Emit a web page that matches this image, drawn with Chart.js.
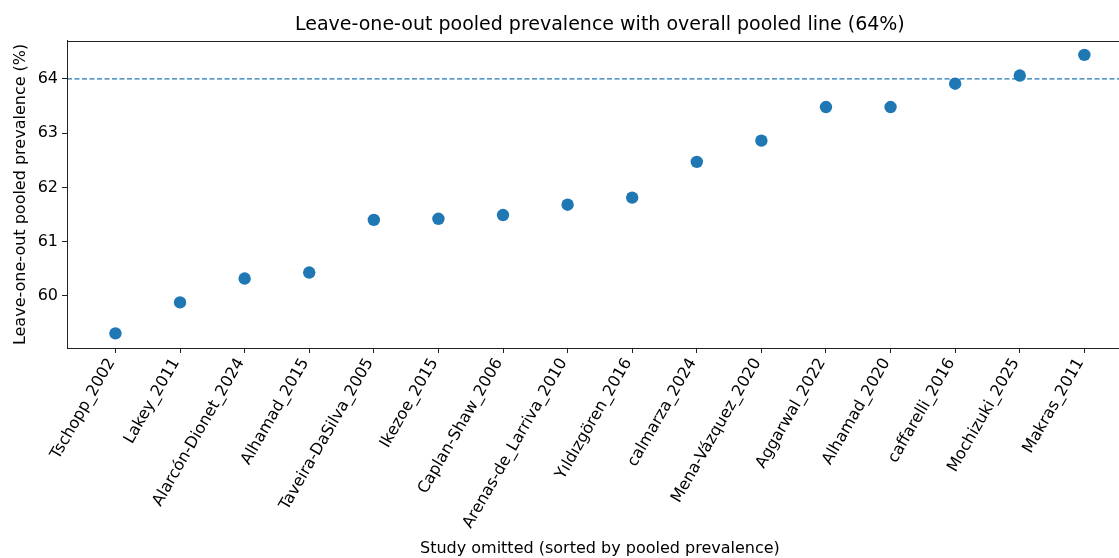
<!DOCTYPE html>
<html>
<head>
<meta charset="utf-8">
<script src="https://cdn.jsdelivr.net/npm/chart.js@4"></script>
<style>
  html, body { margin: 0; padding: 0; background: #fff; overflow: hidden; }
  #wrap { width: 1119px; height: 558px; overflow: hidden; }
</style>
</head>
<body>
<div id="wrap"><canvas id="c" width="1139" height="558"></canvas></div>
<script>
const studies = [
  "Tschopp_2002", "Lakey_2011", "Alarcón-Dionet_2024", "Alhamad_2015",
  "Taveira-DaSilva_2005", "Ikezoe_2015", "Caplan-Shaw_2006", "Arenas-de_Larriva_2010",
  "Yıldızgören_2016", "calmarza_2024", "Mena-Vázquez_2020", "Aggarwal_2022",
  "Alhamad_2020", "caffarelli_2016", "Mochizuki_2025", "Makras_2011"
];
const pooledPrevalence = [
  59.31, 59.88, 60.32, 60.43,
  61.40, 61.42, 61.49, 61.68,
  61.81, 62.47, 62.86, 63.48,
  63.48, 63.91, 64.06, 64.44
];
const overallPooled = 64.0;
const yTicks = [60, 61, 62, 63, 64];
const yRange = [59.04, 64.70];
const xRange = [-0.75, 15.75];

const FONT = "'DejaVu Sans', sans-serif";

const framePlugin = {
  id: 'frame',
  afterDatasetsDraw(chart) {
    const {ctx, chartArea: a} = chart;
    ctx.save();
    ctx.strokeStyle = '#222';
    ctx.lineWidth = 1;
    ctx.strokeRect(Math.round(a.left) + 0.5, Math.round(a.top) + 0.5,
                   Math.round(a.right - a.left) - 1, Math.round(a.bottom - a.top));
    ctx.restore();
  }
};

new Chart(document.getElementById('c'), {
  type: 'scatter',
  data: {
    datasets: [
      {
        label: 'Overall pooled',
        type: 'line',
        data: [{x: xRange[0], y: overallPooled}, {x: xRange[1], y: overallPooled}],
        borderColor: '#1f77b4',
        borderWidth: 1.3,
        borderDash: [5, 2.5],
        pointRadius: 0,
        fill: false,
        order: 2
      },
      {
        label: 'Leave-one-out',
        data: pooledPrevalence.map((v, i) => ({x: i, y: v})),
        backgroundColor: '#1f77b4',
        borderColor: '#1f77b4',
        borderWidth: 0,
        pointRadius: 6.2,
        pointHoverRadius: 6.2,
        order: 1
      }
    ]
  },
  options: {
    responsive: false,
    animation: false,
    events: [],
    layout: { padding: { left: 0, right: 2, top: 0, bottom: 0 } },
    plugins: {
      legend: { display: false },
      tooltip: { enabled: false },
      title: {
        display: true,
        fullSize: false,
        text: 'Leave-one-out pooled prevalence with overall pooled line (64%)',
        color: '#000',
        font: { family: FONT, size: 19, weight: 'normal' },
        padding: { top: 14, bottom: 4 }
      }
    },
    scales: {
      x: {
        type: 'linear',
        min: xRange[0],
        max: xRange[1],
        afterBuildTicks(scale) { scale.ticks = studies.map((_, i) => ({ value: i })); },
        afterFit(scale) { scale.height = 210; scale.paddingLeft = 0; scale.paddingRight = 0; },
        grid: { display: true, drawOnChartArea: false, drawTicks: true, tickLength: 5, color: '#222' },
        border: { display: true, color: '#222' },
        ticks: {
          autoSkip: false,
          minRotation: 60,
          maxRotation: 60,
          padding: 2,
          labelOffset: -4,
          color: '#000',
          font: { family: FONT, size: 16 },
          callback: (v) => studies[v]
        },
        title: {
          display: true,
          text: 'Study omitted (sorted by pooled prevalence)',
          color: '#000',
          font: { family: FONT, size: 16 },
          padding: { top: 0, bottom: 0 }
        }
      },
      y: {
        min: yRange[0],
        max: yRange[1],
        afterBuildTicks(scale) { scale.ticks = yTicks.map(v => ({ value: v })); },
        afterFit(scale) { scale.width = 67; },
        grid: { display: true, drawOnChartArea: false, drawTicks: true, tickLength: 5, color: '#222' },
        border: { display: true, color: '#222' },
        ticks: {
          padding: 4,
          color: '#000',
          font: { family: FONT, size: 16 },
          callback: (v) => String(v)
        },
        title: {
          display: true,
          text: 'Leave-one-out pooled prevalence (%)',
          color: '#000',
          font: { family: FONT, size: 16 },
          padding: { top: 11, bottom: 0 }
        }
      }
    }
  },
  plugins: [framePlugin]
});
</script>
</body>
</html>
